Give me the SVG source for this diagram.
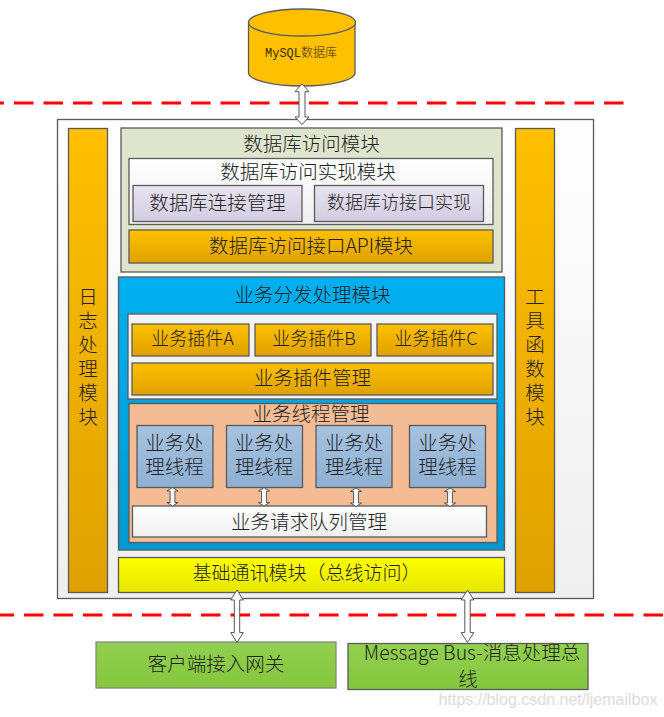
<svg xmlns="http://www.w3.org/2000/svg" width="664" height="717" viewBox="0 0 664 717">
<defs>
<linearGradient id="o" x1="0" y1="0" x2="0" y2="1"><stop offset="0" stop-color="#ffc000"/><stop offset="1" stop-color="#dfa100"/></linearGradient>
<linearGradient id="w" x1="0" y1="0" x2="0" y2="1"><stop offset="0" stop-color="#fff"/><stop offset="1" stop-color="#efefef"/></linearGradient>
<linearGradient id="p" x1="0" y1="0" x2="0" y2="1"><stop offset="0" stop-color="#e8e4f0"/><stop offset="1" stop-color="#d2cce2"/></linearGradient>
<linearGradient id="bl" x1="0" y1="0" x2="0" y2="1"><stop offset="0" stop-color="#00b0f0"/><stop offset="1" stop-color="#0098d0"/></linearGradient>
<linearGradient id="t" x1="0" y1="0" x2="0" y2="1"><stop offset="0" stop-color="#a6c2df"/><stop offset="1" stop-color="#8fb0d2"/></linearGradient>
<linearGradient id="y" x1="0" y1="0" x2="0" y2="1"><stop offset="0" stop-color="#ffff00"/><stop offset="1" stop-color="#e6e600"/></linearGradient>
<linearGradient id="g" x1="0" y1="0" x2="0" y2="1"><stop offset="0" stop-color="#92d050"/><stop offset="1" stop-color="#84c63c"/></linearGradient>
<path id="a" d="M0,0 L7,7 L3,7 L3,30 L7,30 L0,37 L-7,30 L-3,30 L-3,7 L-7,7 Z" vector-effect="non-scaling-stroke"/>
</defs>
<style>
text{font-family:"Noto Sans CJK SC","Liberation Sans",sans-serif;font-weight:300;fill:#222;text-anchor:middle}
rect,ellipse,.c{stroke:#5a5a5a;stroke-width:1.3}
.f{font-size:19.5px}
.s{font-size:18px}
.ar{fill:#fff;stroke:#555;stroke-width:1}
.d{stroke:#f00;stroke-width:3;stroke-dasharray:19.500 10;fill:none}
</style>
<rect width="664" height="717" fill="#fff" style="stroke:none"/>
<g id="boundaries">
<path class="d" d="M0,103H626" stroke-dashoffset="15.500"/>
<path class="d" d="M0,615H664" stroke-dashoffset="5.500"/>
</g>
<g id="mysql">
<path class="c" d="M248.500,22V73C248.500,80 273,86 302,86C331,86 355,80 355,73V22Z" fill="#ffc000"/>
<ellipse cx="302" cy="22.500" rx="53.500" ry="13.500" fill="#ffc000"/>
<text x="301" y="57" style="font-family:'Liberation Mono','Noto Sans CJK SC',monospace;font-size:12px;fill:#3a2c00">MySQL数据库</text>
</g>
<g id="container"><rect x="57.500" y="119.500" width="536" height="479" fill="url(#w)" stroke="#444"/></g>
<g id="log"><rect x="68.500" y="128.500" width="39" height="464" fill="url(#o)"/>
<text class="f" x="88" y="304">日<tspan x="88" dy="24">志</tspan><tspan x="88" dy="24">处</tspan><tspan x="88" dy="24">理</tspan><tspan x="88" dy="24">模</tspan><tspan x="88" dy="24">块</tspan></text></g>
<g id="tools"><rect x="515.500" y="128.500" width="39" height="464" fill="url(#o)"/>
<text class="f" x="535" y="304">工<tspan x="535" dy="24">具</tspan><tspan x="535" dy="24">函</tspan><tspan x="535" dy="24">数</tspan><tspan x="535" dy="24">模</tspan><tspan x="535" dy="24">块</tspan></text></g>
<g id="db-module"><rect x="121" y="128" width="381" height="144" fill="#dfe5cd"/><text class="f" x="311.500" y="151">数据库访问模块</text></g>
<g id="db-impl"><rect x="129" y="158.500" width="364" height="66" fill="url(#w)"/><text class="f" x="308" y="179">数据库访问实现模块</text></g>
<g id="db-conn"><rect x="133" y="185.500" width="169" height="36" fill="url(#p)"/><text class="f" x="217.500" y="210">数据库连接管理</text></g>
<g id="db-if"><rect x="314.500" y="185.500" width="169" height="36" fill="url(#p)"/><text class="s" x="399" y="209">数据库访接口实现</text></g>
<g id="db-api"><rect x="129" y="230" width="364" height="33" fill="url(#o)"/><text class="f" x="311" y="253">数据库访问接口API模块</text></g>
<g id="dispatch"><rect x="118.500" y="277" width="386" height="273" fill="url(#bl)"/><text class="f" x="312.500" y="302">业务分发处理模块</text></g>
<g id="plugin-area"><rect x="128" y="314" width="369" height="85" fill="#f3f3f3"/></g>
<g id="plugin-a"><rect x="132" y="324" width="117" height="32" fill="url(#o)"/><text class="s" x="192.500" y="345">业务插件A</text></g>
<g id="plugin-b"><rect x="255" y="324" width="116" height="32" fill="url(#o)"/><text class="s" x="314" y="345">业务插件B</text></g>
<g id="plugin-c"><rect x="377" y="324" width="116" height="32" fill="url(#o)"/><text class="s" x="436" y="345">业务插件C</text></g>
<g id="plugin-mgmt"><rect x="132" y="363" width="361" height="32" fill="url(#o)"/><text class="f" x="312.500" y="385">业务插件管理</text></g>
<g id="thread-mgmt"><rect x="129" y="403.500" width="368" height="139" fill="#f4bc94"/><text class="f" x="311" y="420.500">业务线程管理</text></g>
<g id="thread-1"><rect x="137" y="425.500" width="76" height="62" fill="url(#t)"/><text class="f" x="174.500" y="449.500">业务处</text><text class="f" x="174.500" y="473.500">理线程</text></g>
<g id="thread-2"><rect x="226.500" y="425.500" width="76" height="62" fill="url(#t)"/><text class="f" x="264" y="449.500">业务处</text><text class="f" x="264" y="473.500">理线程</text></g>
<g id="thread-3"><rect x="316" y="425.500" width="76" height="62" fill="url(#t)"/><text class="f" x="354" y="449.500">业务处</text><text class="f" x="354" y="473.500">理线程</text></g>
<g id="thread-4"><rect x="409.500" y="425.500" width="76" height="62" fill="url(#t)"/><text class="f" x="447.500" y="449.500">业务处</text><text class="f" x="447.500" y="473.500">理线程</text></g>
<g id="queue"><rect x="132.500" y="506" width="354" height="31" fill="url(#w)"/><text class="f" x="309" y="528.500">业务请求队列管理</text></g>
<g id="comm"><rect x="118.500" y="557.500" width="386" height="35" fill="url(#y)"/><text class="f" x="306.500" y="580" style="font-size:19px">基础通讯模块（总线访问）</text></g>
<g id="gateway"><rect x="96" y="642" width="240" height="46" fill="url(#g)" style="stroke:#888"/><text class="f" x="216" y="671">客户端接入网关</text></g>
<g id="bus"><rect x="348" y="643.500" width="240" height="46" fill="url(#g)"/><text class="f" x="472" y="660">Message Bus-消息处理总</text><text class="f" x="468" y="686">线</text></g>
<g id="connectors">
<use href="#a" class="ar" transform="translate(302,84) scale(1,1.1)"/>
<use href="#a" class="ar" transform="translate(172.500,487.500) scale(.8,.5)"/>
<use href="#a" class="ar" transform="translate(264,487.500) scale(.8,.5)"/>
<use href="#a" class="ar" transform="translate(356,488) scale(.8,.5)"/>
<use href="#a" class="ar" transform="translate(450,488) scale(.8,.5)"/>
<use href="#a" class="ar" transform="translate(237,590) scale(.9,1.42)"/>
<use href="#a" class="ar" transform="translate(467.500,590) scale(.9,1.42)"/>
</g>
<text x="548" y="705" style="font-family:'Liberation Sans',sans-serif;font-weight:400;font-size:16px;fill:#d9d9d9;opacity:.9">https://blog.csdn.net/ljemailbox</text>
</svg>
